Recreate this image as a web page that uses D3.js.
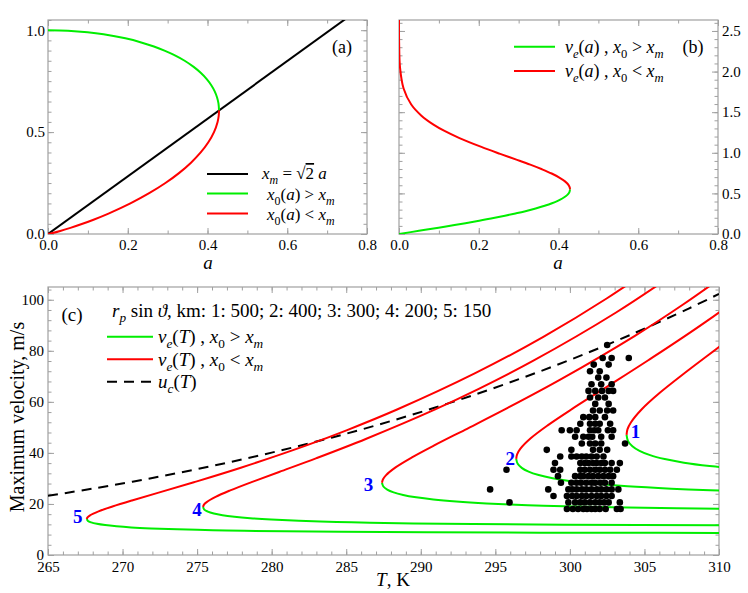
<!DOCTYPE html>
<html><head><meta charset="utf-8">
<script src="https://cdn.jsdelivr.net/npm/d3@7"></script>
<style>
body{margin:0;background:#fff}
svg{display:block}
text{font-family:"Liberation Serif","Times New Roman",serif}
</style></head>
<body><svg id="chart" width="748" height="593"></svg>
<script>
// ---------- DATA ----------
// panel (a): x_m line and x0(a) branches  [a, x]
const aXm = [[0,0],[0.75,1.0607]];
const aGreen = [[0,1],[0.0499,0.9975],[0.0993,0.99],[0.1393,0.98],[0.194,0.96],[0.2338,0.94],[0.2657,0.92],[0.2921,0.90],[0.3146,0.88],[0.3427,0.85],[0.3653,0.82],[0.3836,0.79],[0.3981,0.76],[0.4095,0.73],[0.4181,0.70],[0.424,0.67],[0.4276,0.64],[0.4289,0.6065]];
const aRed = [[0.4289,0.6065],[0.4281,0.58],[0.4253,0.55],[0.4163,0.50],[0.4021,0.45],[0.3829,0.40],[0.3586,0.35],[0.3292,0.30],[0.2944,0.25],[0.2537,0.20],[0.2066,0.15],[0.1517,0.10],[0.1141,0.07],[0.0865,0.05],[0.0562,0.03],[0.0307,0.015],[0.0115,0.005],[0,0]];
// panel (b): v_e(a)  [a, v]
const bGreen = [[0,0],[0.0499,0.039],[0.0993,0.078],[0.1393,0.111],[0.194,0.157],[0.2338,0.194],[0.2657,0.225],[0.2921,0.253],[0.3146,0.278],[0.3427,0.314],[0.3653,0.347],[0.3836,0.378],[0.3981,0.408],[0.4095,0.437],[0.4181,0.465],[0.424,0.492],[0.4276,0.520],[0.4289,0.550]];
const bRed = [[0.4289,0.550],[0.4281,0.574],[0.4253,0.602],[0.4163,0.648],[0.4021,0.695],[0.3829,0.745],[0.3586,0.797],[0.3292,0.854],[0.2944,0.916],[0.2537,0.987],[0.2066,1.072],[0.1517,1.181],[0.1141,1.269],[0.0865,1.347],[0.0562,1.457],[0.0307,1.594],[0.0115,1.791],[0.00263,2.045],[0.0003,2.361],[0.00003,2.64]];
// panel (c): v_e(T) branches [T, v]
const cGreen1 = [[303.80,47.09],[303.90,44.63],[304.19,42.63],[304.67,40.80],[305.38,39.12],[306.36,37.58],[307.65,36.15],[309.37,34.84],[311.64,33.60]];
const cRed1 = [[303.80,47.09],[303.86,49.24],[304.09,51.93],[304.82,57.12],[306.01,63.47],[307.72,71.41],[310.02,81.60],[313.09,95.2]];
const cGreen2 = [[296.40,37.69],[296.50,35.72],[296.77,34.12],[297.23,32.65],[297.91,31.31],[298.84,30.08],[300.06,28.93],[301.70,27.88],[303.86,26.89],[306.80,25.98],[309.41,25.40],[312.79,24.85]];
const cRed2 = [[296.40,37.69],[296.46,39.41],[296.67,41.56],[297.37,45.72],[298.51,50.80],[300.13,57.15],[302.32,65.31],[305.23,76.19],[309.13,91.43],[314.47,114.3]];
const cGreen3 = [[287.40,28.31],[287.49,26.83],[287.75,25.63],[288.18,24.53],[288.82,23.52],[289.69,22.60],[290.84,21.74],[292.38,20.94],[294.41,20.20],[297.17,19.51],[299.61,19.08],[302.79,18.66],[307.18,18.27],[313.82,17.89]];
const cRed3 = [[287.40,28.31],[287.46,29.60],[287.66,31.22],[288.31,34.34],[289.38,38.16],[290.90,42.93],[292.96,49.06],[295.70,57.24],[299.35,68.69],[304.36,85.86],[307.59,98.13],[311.55,114.5]];
const cGreen4 = [[275.40,18.78],[275.48,17.80],[275.72,17.00],[276.12,16.27],[276.70,15.60],[277.50,14.99],[278.56,14.42],[279.97,13.89],[281.83,13.40],[284.36,12.94],[286.59,12.66],[289.50,12.38],[293.51,12.12],[299.57,11.86],[310.96,11.62]];
const cRed4 = [[275.40,18.78],[275.45,19.63],[275.64,20.71],[276.24,22.78],[277.22,25.31],[278.61,28.47],[280.50,32.54],[283.01,37.96],[286.35,45.56],[290.93,56.95],[293.89,65.08],[297.49,75.93],[303.07,94.91],[307.94,113.9]];
const cGreen5 = [[267.60,14.10],[267.68,13.36],[267.90,12.76],[268.28,12.21],[268.83,11.71],[269.59,11.25],[270.58,10.82],[271.91,10.43],[273.67,10.06],[276.05,9.72],[278.16,9.50],[280.89,9.29],[284.67,9.10],[290.36,8.91],[301.05,8.72],[312.8,8.64]];
const cRed5 = [[267.60,14.10],[267.65,14.74],[267.82,15.54],[268.39,17.10],[269.32,19.00],[270.63,21.37],[272.42,24.43],[274.78,28.50],[277.93,34.20],[282.24,42.75],[285.02,48.85],[288.41,57.00],[293.65,71.24],[298.22,85.49],[302.49,100.6],[307.88,122.1]];
const cUc = [[265,23.20],[268,26.01],[272,30.18],[276,34.86],[280,40.11],[284,45.97],[288,52.48],[292,59.69],[296,67.66],[300,76.44],[304,86.09],[308,96.65],[310,102.29]];
const curveLabels = [["1",304.4,48.5],["2",296.0,38.0],["3",286.5,27.5],["4",275.0,17.7],["5",267.0,15.3]];
// observations: rows of maximum velocity (m/s) with their temperatures (K)
const obsRows = [
 [82.3,[302.5]],
 [77.2,[302.2,302.8,303.95]],
 [74.6,[301.6,302.6]],
 [72.0,[301.35,302.0]],
 [69.5,[301.9,302.45]],
 [66.9,[301.45,302.1,302.8]],
 [64.3,[301.25,301.7,302.15,302.6,302.9]],
 [61.7,[301.35,301.9,302.35]],
 [59.2,[301.7,302.6]],
 [56.6,[301.55,302.0,302.5,302.9]],
 [54.0,[300.9,301.3,301.7,302.35]],
 [51.4,[300.7,301.35,301.7,302.0,302.7]],
 [48.9,[299.45,300.0,300.45,301.35,301.65,301.9,302.55,302.9]],
 [46.3,[300.35,300.9,301.25,301.5,302.1,302.8]],
 [43.7,[300.8,301.35,301.7,302.1,303.7]],
 [41.2,[298.45,300.1,301.55,302.0,302.5]],
 [38.6,[299.35,300.1,300.45,300.8,301.1,301.45,301.8,302.25]],
 [36.0,[299.0,300.7,301.0,301.25,301.55,301.8,302.1,302.35,302.8,303.35]],
 [33.4,[295.75,298.9,299.35,300.7,301.0,301.35,301.7,302.0,302.35,302.7,303.15]],
 [30.9,[299.2,300.35,300.7,300.9,301.25,301.55,301.9,302.25,302.6,302.9]],
 [28.3,[299.4,300.1,300.45,300.75,301.1,301.45,301.7,302.05,302.35,302.8]],
 [25.7,[294.65,298.55,299.9,300.15,300.45,300.8,301.1,301.45,301.8,302.1,302.45,302.8,303.25]],
 [23.1,[298.9,299.8,300.15,300.45,300.8,301.1,301.45,301.8,302.1,302.45,302.8]],
 [20.6,[295.95,299.9,300.35,300.7,301.0,301.35,301.7,302.0,302.3,302.6,303.35]],
 [18.0,[299.8,300.2,300.55,300.9,301.15,301.45,301.7,302.0,302.4,303.15,303.4]]
];
// ticks
const abXTicks = [0,0.2,0.4,0.6,0.8];
const aYTicks = [0,0.5,1.0];
const bYTicks = [0,0.5,1.0,1.5,2.0,2.5];
const cXTicks = [265,270,275,280,285,290,295,300,305,310];
const cYTicks = [0,20,40,60,80,100];

// ---------- DRAW ----------
const svg = d3.select('#chart');
const GREEN = '#00ee00', RED = '#ff0000', GREY = '#a0a0a0';
const FONT = '"Liberation Serif","Times New Roman",serif';

const xa = d3.scaleLinear().domain([0,0.8]).range([48,367]);
const ya = d3.scaleLinear().domain([0,1.05]).range([234,20]);
const xb = d3.scaleLinear().domain([0,0.8]).range([399,718]);
const yb = d3.scaleLinear().domain([0,2.635]).range([234,20]);
const xc = d3.scaleLinear().domain([265,310]).range([48,719]);
const yc = d3.scaleLinear().domain([0,105]).range([555,287]);

function styleAxis(g){
  g.attr('font-family',FONT);
  g.select('.domain').remove();
  g.selectAll('line').attr('stroke',GREY).attr('stroke-width',1);
  g.selectAll('text').attr('font-size',15).attr('fill','#000').attr('font-family',FONT);
}
function axes(x, y, o){
  const [x0,x1] = x.range(), [y0,y1] = y.range();
  const xMinor = d3.range(x.domain()[0], x.domain()[1]+1e-9, o.xMinor);
  const yMinor = d3.range(y.domain()[0], y.domain()[1]+1e-9, o.yMinor);
  svg.append('rect').attr('x',x0).attr('y',y1).attr('width',x1-x0).attr('height',y0-y1)
     .attr('fill','none').attr('stroke',GREY).attr('stroke-width',1.2);
  svg.append('g').attr('transform',`translate(0,${y0})`)
     .call(d3.axisBottom(x).tickValues(xMinor).tickSize(-3.5).tickFormat('')).call(styleAxis);
  svg.append('g').attr('transform',`translate(0,${y0})`)
     .call(d3.axisBottom(x).tickValues(o.xTicks).tickSize(-6).tickPadding(o.xPad).tickFormat(o.xFmt)).call(styleAxis);
  svg.append('g').attr('transform',`translate(0,${y1})`)
     .call(d3.axisTop(x).tickValues(xMinor).tickSize(-3.5).tickFormat('')).call(styleAxis);
  svg.append('g').attr('transform',`translate(0,${y1})`)
     .call(d3.axisTop(x).tickValues(o.xTicks).tickSize(-6).tickFormat('')).call(styleAxis);
  svg.append('g').attr('transform',`translate(${x0},0)`)
     .call(d3.axisLeft(y).tickValues(yMinor).tickSize(-3.5).tickFormat('')).call(styleAxis);
  svg.append('g').attr('transform',`translate(${x0},0)`)
     .call(d3.axisLeft(y).tickValues(o.yTicks).tickSize(-6).tickPadding(o.yPad)
       .tickFormat(o.yRight ? '' : o.yFmt)).call(styleAxis);
  svg.append('g').attr('transform',`translate(${x1},0)`)
     .call(d3.axisRight(y).tickValues(yMinor).tickSize(-3.5).tickFormat('')).call(styleAxis);
  svg.append('g').attr('transform',`translate(${x1},0)`)
     .call(d3.axisRight(y).tickValues(o.yTicks).tickSize(-6).tickPadding(o.yPad)
       .tickFormat(o.yRight ? o.yFmt : '')).call(styleAxis);
}
function clip(id, x, y){
  const [x0,x1] = x.range(), [y0,y1] = y.range();
  svg.append('clipPath').attr('id',id).append('rect')
     .attr('x',x0).attr('y',y1).attr('width',x1-x0).attr('height',y0-y1);
  return svg.append('g').attr('clip-path',`url(#${id})`);
}
function path(g, data, x, y, color, dash){
  const line = d3.line().x(d=>x(d[0])).y(d=>y(d[1])).curve(d3.curveCatmullRom.alpha(0.5));
  const p = g.append('path').attr('d',line(data)).attr('fill','none')
    .attr('stroke',color).attr('stroke-width',2).attr('stroke-linejoin','round');
  if(dash) p.attr('stroke-dasharray',dash);
  return p;
}
function mtext(x, y, parts, size, anchor){
  const t = svg.append('text').attr('x',x).attr('y',y).attr('font-size',size)
     .attr('text-anchor',anchor||'start').attr('fill','#000').attr('font-family',FONT);
  let shift = 0;
  parts.forEach(([s,st])=>{
    const ts = t.append('tspan').text(s);
    const sub = st==='sub'||st==='isub';
    if(st==='i'||st==='isub') ts.attr('font-style','italic');
    if(sub){ ts.attr('font-size',size*0.7).attr('dy', (0.28*size - shift)); shift = 0.28*size; }
    else if(shift){ ts.attr('dy',-shift); shift = 0; }
    if(st==='over') ts.attr('text-decoration','overline');
  });
  return t;
}
function label(x, y, s, size, extra){
  const t = svg.append('text').attr('x',x).attr('y',y).attr('font-size',size)
    .attr('text-anchor','middle').attr('font-family',FONT).text(s);
  if(extra) extra(t);
  return t;
}

// ---- panel (a)
const f1 = d3.format('.1f');
axes(xa, ya, {xTicks:abXTicks, yTicks:aYTicks, xMinor:0.1, yMinor:0.05, xFmt:f1, yFmt:f1, xPad:5, yPad:3});
const ga = clip('clipA', xa, ya);
path(ga, aXm, xa, ya, '#000');
path(ga, aGreen, xa, ya, GREEN);
path(ga, aRed, xa, ya, RED);
label(342, 53, '(a)', 18);
label(208, 269, 'a', 19, t=>t.attr('font-style','italic'));
[[174,'#000'],[193.5,GREEN],[213.5,RED]].forEach(([yy,c])=>{
  svg.append('line').attr('x1',207).attr('x2',248).attr('y1',yy).attr('y2',yy).attr('stroke',c).attr('stroke-width',2);
});
mtext(262,179,[['x','i'],['m','isub'],[' = √',''],['2','over'],[' ',''],['a','i']],17);
mtext(267,200,[['x','i'],['0','sub'],['(',''],['a','i'],[') > ',''],['x','i'],['m','isub']],17);
mtext(267,220,[['x','i'],['0','sub'],['(',''],['a','i'],[') < ',''],['x','i'],['m','isub']],17);

// ---- panel (b)
axes(xb, yb, {xTicks:abXTicks, yTicks:bYTicks, xMinor:0.1, yMinor:0.1, xFmt:f1, yFmt:f1, xPad:5, yPad:4, yRight:true});
const gb = clip('clipB', xb, yb);
path(gb, bGreen, xb, yb, GREEN);
path(gb, bRed, xb, yb, RED);
label(693, 53, '(b)', 18);
label(558, 269, 'a', 19, t=>t.attr('font-style','italic'));
[[46.7,GREEN],[71,RED]].forEach(([yy,c])=>{
  svg.append('line').attr('x1',514).attr('x2',555).attr('y1',yy).attr('y2',yy).attr('stroke',c).attr('stroke-width',2);
});
mtext(565,53,[['v','i'],['e','isub'],['(',''],['a','i'],[') , ',''],['x','i'],['0','sub'],[' > ',''],['x','i'],['m','isub']],18);
mtext(565,77,[['v','i'],['e','isub'],['(',''],['a','i'],[') , ',''],['x','i'],['0','sub'],[' < ',''],['x','i'],['m','isub']],18);

// ---- panel (c)
axes(xc, yc, {xTicks:cXTicks, yTicks:cYTicks, xMinor:1, yMinor:4, xFmt:d3.format('d'), yFmt:d3.format('d'), xPad:6, yPad:4});
const gc = clip('clipC', xc, yc);
path(gc, cUc, xc, yc, '#000', '10,7');
[[cRed1,cGreen1],[cRed2,cGreen2],[cRed3,cGreen3],[cRed4,cGreen4],[cRed5,cGreen5]].forEach(([r,g])=>{
  path(gc, g, xc, yc, GREEN);
  path(gc, r, xc, yc, RED);
});
const obs = obsRows.flatMap(([v,ts])=>ts.map(t=>[t,v]));
gc.selectAll('circle').data(obs).join('circle')
  .attr('cx',d=>xc(d[0])).attr('cy',d=>yc(d[1])).attr('r',3.3).attr('fill','#000');
curveLabels.forEach(([s,t,v])=>{
  svg.append('text').attr('x',xc(t)).attr('y',yc(v)).attr('dy','0.35em').attr('text-anchor','middle')
    .attr('font-size',19).attr('font-weight','bold').attr('fill','#0000ff').attr('font-family',FONT).text(s);
});
label(72, 321, '(c)', 19);
mtext(112,317,[['r','i'],['p','isub'],[' sin ',''],['ϑ','i'],[', km: 1: 500; 2: 400; 3: 300; 4: 200; 5: 150','']],19);
[[336.7,GREEN,null],[359.3,RED,null],[381.7,'#000','10,7']].forEach(([yy,c,da])=>{
  const l = svg.append('line').attr('x1',107).attr('x2',153).attr('y1',yy).attr('y2',yy).attr('stroke',c).attr('stroke-width',2);
  if(da) l.attr('stroke-dasharray',da);
});
mtext(158,343,[['v','i'],['e','isub'],['(',''],['T','i'],[')  , ',''],['x','i'],['0','sub'],[' > ',''],['x','i'],['m','isub']],19);
mtext(158,366,[['v','i'],['e','isub'],['(',''],['T','i'],[')  , ',''],['x','i'],['0','sub'],[' < ',''],['x','i'],['m','isub']],19);
mtext(158,388,[['u','i'],['c','isub'],['(',''],['T','i'],[')','']],19);
mtext(393,586,[['T','i'],[', K','']],19,'middle');
svg.append('text').attr('transform','translate(24,417) rotate(-90)').attr('font-size',20)
  .attr('text-anchor','middle').attr('font-family',FONT).text('Maximum velocity, m/s');
</script></body></html>
